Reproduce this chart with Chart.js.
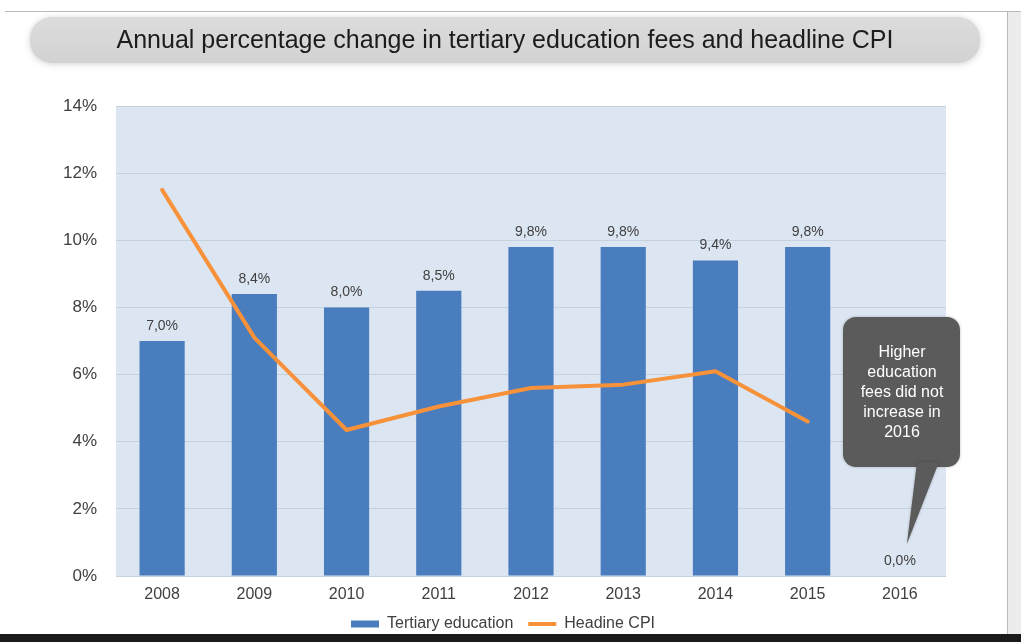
<!DOCTYPE html>
<html>
<head>
<meta charset="utf-8">
<script src="https://cdn.jsdelivr.net/npm/chart.js@4/dist/chart.umd.min.js"></script>
<style>
  html, body { margin: 0; padding: 0; background: #ffffff; }
  #wrap { width: 1021px; height: 642px; position: relative; }
</style>
</head>
<body>
<div id="wrap"><canvas id="c" width="1021" height="642"></canvas></div>
<script>
// Years on the category axis
const years = ['2008', '2009', '2010', '2011', '2012', '2013', '2014', '2015', '2016'];
// Annual % change in tertiary education fees
const tertiaryFees = [7.0, 8.4, 8.0, 8.5, 9.8, 9.8, 9.4, 9.8, 0.0];
// Annual % change in headline CPI (no 2016 value shown)
const headlineCpi = [11.5, 7.1, 4.35, 5.05, 5.6, 5.7, 6.1, 4.6, null];
// Value axis ticks
const yTicks = [0, 2, 4, 6, 8, 10, 12, 14];

const titleText = 'Annual percentage change in tertiary education fees and headline CPI';
const noteLines = ['Higher', 'education', 'fees did not', 'increase in', '2016'];

const BLUE = '#4a7dbd';
const ORANGE = '#f7923a';
const TEXT = '#404040';
const FONT = '"Liberation Sans", Arial, sans-serif';

const fmtPct = v => v.toFixed(1).replace('.', ',') + '%';

// Slide frame, title pill and plot background
const backdrop = {
  id: 'backdrop',
  beforeDraw(chart) {
    const ctx = chart.ctx;
    const a = chart.chartArea;
    ctx.save();
    ctx.fillStyle = '#ffffff';
    ctx.fillRect(0, 0, chart.width, chart.height);
    // right margin strip and frame lines
    ctx.fillStyle = '#ececec';
    ctx.fillRect(1008, 11, 13, 624);
    ctx.strokeStyle = '#b9b9b9';
    ctx.lineWidth = 1;
    ctx.beginPath();
    ctx.moveTo(5, 11.5); ctx.lineTo(1021, 11.5);
    ctx.moveTo(1007.5, 11); ctx.lineTo(1007.5, 634);
    ctx.stroke();
    // title pill
    ctx.shadowColor = 'rgba(0,0,0,0.18)';
    ctx.shadowBlur = 6;
    ctx.shadowOffsetY = 1;
    const g = ctx.createLinearGradient(0, 17, 0, 63);
    g.addColorStop(0, '#dcdcdc');
    g.addColorStop(1, '#d2d2d2');
    ctx.fillStyle = g;
    ctx.beginPath();
    ctx.roundRect(30, 17, 950, 46, 22);
    ctx.fill();
    ctx.shadowColor = 'transparent';
    ctx.fillStyle = '#1c1c1c';
    ctx.font = '25px ' + FONT;
    ctx.textAlign = 'center';
    ctx.textBaseline = 'middle';
    ctx.fillText(titleText, 505, 41);
    // plot area fill
    ctx.fillStyle = '#dce6f2';
    ctx.fillRect(a.left, a.top, a.right - a.left, a.bottom - a.top);
    ctx.restore();
  }
};

// Value labels above bars and the note bubble
const annotations = {
  id: 'annotations',
  afterDatasetsDraw(chart) {
    const ctx = chart.ctx;
    const meta = chart.getDatasetMeta(0);
    ctx.save();
    ctx.fillStyle = TEXT;
    ctx.font = '14px ' + FONT;
    ctx.textAlign = 'center';
    ctx.textBaseline = 'middle';
    meta.data.forEach((bar, i) => {
      ctx.fillText(fmtPct(tertiaryFees[i]), bar.x, bar.y - 15);
    });
    ctx.restore();
  },
  afterDraw(chart) {
    const ctx = chart.ctx;
    const xs = chart.scales.x, ys = chart.scales.y;
    const tipX = xs.getPixelForValue(8) + 7;
    const tipY = ys.getPixelForValue(0) - 32;
    ctx.save();
    ctx.fillStyle = '#5b5b5b';
    ctx.shadowColor = 'rgba(0,0,0,0.25)';
    ctx.shadowBlur = 3;
    ctx.beginPath();
    ctx.roundRect(843, 317, 117, 150, 13);
    ctx.fill();
    ctx.beginPath();
    ctx.moveTo(917, 462);
    ctx.lineTo(939, 462);
    ctx.lineTo(tipX, tipY);
    ctx.closePath();
    ctx.fill();
    ctx.shadowColor = 'transparent';
    ctx.fillStyle = '#ffffff';
    ctx.font = '16px ' + FONT;
    ctx.textAlign = 'center';
    ctx.textBaseline = 'middle';
    noteLines.forEach((t, i) => ctx.fillText(t, 902, 353 + i * 20));
    // dark strip along the bottom edge
    ctx.fillStyle = '#1b1b1b';
    ctx.fillRect(0, 634, chart.width, 8);
    ctx.restore();
  }
};

new Chart(document.getElementById('c'), {
  data: {
    labels: years,
    datasets: [
      {
        type: 'bar',
        label: 'Tertiary education',
        data: tertiaryFees,
        backgroundColor: BLUE,
        borderWidth: 0,
        categoryPercentage: 1,
        barPercentage: 0.49,
        order: 2
      },
      {
        type: 'line',
        label: 'Headine CPI',
        data: headlineCpi,
        borderColor: ORANGE,
        backgroundColor: ORANGE,
        borderWidth: 4,
        pointRadius: 0,
        tension: 0,
        borderCapStyle: 'round',
        borderJoinStyle: 'round',
        order: 1
      }
    ]
  },
  options: {
    responsive: false,
    animation: false,
    devicePixelRatio: 1,
    layout: { padding: { left: 60, right: 75, top: 106, bottom: 0 } },
    plugins: {
      title: { display: false },
      tooltip: { enabled: false },
      legend: {
        position: 'bottom',
        labels: {
          color: TEXT,
          font: { family: FONT, size: 16 },
          usePointStyle: true,
          pointStyleWidth: 28,
          boxHeight: 7,
          padding: 15,
          generateLabels(chart) {
            const items = Chart.defaults.plugins.legend.labels.generateLabels(chart)
              .sort((a, b) => a.datasetIndex - b.datasetIndex);
            items.forEach(it => {
              if (it.datasetIndex === 0) {
                it.pointStyle = 'rect';
                it.lineWidth = 0;
                it.fillStyle = BLUE;
              } else {
                it.pointStyle = 'line';
                it.lineWidth = 4;
                it.strokeStyle = ORANGE;
              }
            });
            return items;
          }
        }
      }
    },
    scales: {
      x: {
        grid: { display: false, drawTicks: false },
        border: { display: false },
        ticks: { color: TEXT, font: { family: FONT, size: 16 }, padding: 9 },
        afterFit(scale) { scale.height = 25; }
      },
      y: {
        min: 0,
        max: 14,
        afterBuildTicks(scale) { scale.ticks = yTicks.map(v => ({ value: v })); },
        grid: { color: '#c6d1de', lineWidth: 1, drawTicks: false },
        border: { display: false },
        ticks: {
          color: TEXT,
          font: { family: FONT, size: 17 },
          padding: 19,
          callback: v => v + '%'
        },
        afterFit(scale) { scale.width = 56; }
      }
    }
  },
  plugins: [backdrop, annotations]
});
</script>
</body>
</html>
